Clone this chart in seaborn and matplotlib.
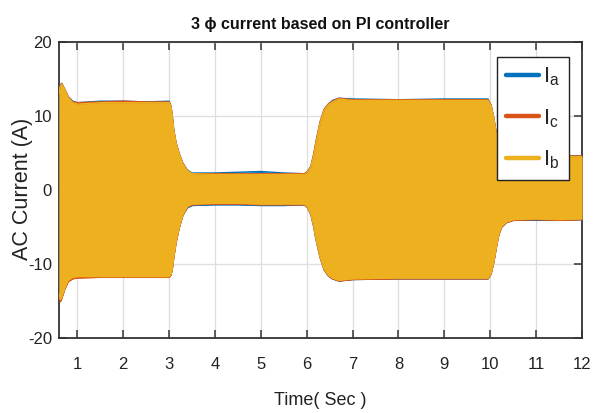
import numpy as np
import pandas as pd
import matplotlib
matplotlib.use("Agg")
import matplotlib.pyplot as plt
from matplotlib import font_manager
from matplotlib.lines import Line2D
import seaborn as sns

# Envelope of the three phase currents (A) against time (s)
time_s = [0.60, 0.63, 0.66, 0.72, 0.80, 0.90, 1.00, 1.50, 2.00, 2.50, 3.00,
          3.04, 3.07, 3.10, 3.15, 3.22, 3.30, 3.40, 3.50, 4.00, 4.50, 5.00,
          5.50, 5.95, 6.02, 6.09, 6.15, 6.20, 6.29, 6.38, 6.47, 6.56, 6.70,
          7.00, 8.00, 9.00, 9.95, 10.02, 10.08, 10.15, 10.19, 10.25, 10.35,
          10.50, 11.00, 11.50, 12.00]

ib_upper = [13.0, 14.0, 14.3, 13.6, 12.5, 11.8, 11.6, 11.8, 11.8, 11.8, 11.8,
            11.2, 9.8, 8.0, 6.3, 4.8, 3.5, 2.6, 2.2, 2.1, 2.1, 2.1,
            2.1, 2.1, 2.4, 3.1, 4.6, 6.3, 9.0, 10.8, 11.5, 11.9, 12.3,
            12.1, 12.1, 12.1, 12.1, 11.3, 9.5, 6.8, 5.4, 4.7, 4.5,
            4.5, 4.5, 4.5, 4.5]
ib_lower = [-14.0, -14.8, -14.5, -13.3, -12.2, -11.8, -11.7, -11.7, -11.7, -11.7, -11.7,
            -11.4, -10.5, -9.0, -7.0, -5.0, -3.3, -2.2, -1.9, -1.8, -1.8, -1.9,
            -1.9, -1.9, -2.3, -3.2, -4.8, -6.5, -9.0, -10.7, -11.5, -11.9, -12.2,
            -12.0, -11.9, -11.9, -11.9, -11.2, -9.5, -7.0, -5.8, -4.9, -4.3,
            -4.0, -3.9, -4.0, -3.9]

ia_upper = [13.1, 14.2, 14.4, 13.6, 12.6, 12.0, 11.8, 12.0, 12.0, 11.9, 12.0,
            11.3, 9.9, 8.1, 6.4, 4.9, 3.6, 2.7, 2.3, 2.3, 2.4, 2.5,
            2.3, 2.2, 2.5, 3.2, 4.7, 6.4, 9.1, 10.9, 11.6, 12.1, 12.4,
            12.3, 12.2, 12.3, 12.3, 11.4, 9.6, 6.9, 5.5, 4.8, 4.6,
            4.6, 4.6, 4.6, 4.6]
ia_lower = [-14.1, -14.8, -14.6, -13.4, -12.3, -11.9, -11.8, -11.8, -11.8, -11.8, -11.8,
            -11.5, -10.6, -9.1, -7.1, -5.1, -3.4, -2.4, -2.1, -2.0, -2.0, -2.1,
            -2.1, -2.0, -2.4, -3.3, -4.9, -6.6, -9.1, -10.8, -11.6, -12.0, -12.3,
            -12.1, -12.0, -12.0, -12.0, -11.3, -9.6, -7.1, -5.9, -5.0, -4.4,
            -4.1, -4.1, -4.1, -4.0]

ic_upper = [13.1, 14.1, 14.4, 13.7, 12.6, 11.9, 11.8, 11.9, 12.0, 11.9, 11.9,
            11.3, 10.0, 8.2, 6.4, 4.9, 3.6, 2.6, 2.2, 2.2, 2.2, 2.2,
            2.2, 2.2, 2.5, 3.2, 4.8, 6.5, 9.2, 10.9, 11.6, 12.0, 12.4,
            12.2, 12.2, 12.2, 12.2, 11.4, 9.6, 6.9, 5.5, 4.8, 4.6,
            4.6, 4.6, 4.6, 4.6]
ic_lower = [-14.3, -15.1, -14.7, -13.5, -12.4, -12.0, -11.9, -11.8, -11.8, -11.8, -11.8,
            -11.5, -10.7, -9.2, -7.2, -5.1, -3.4, -2.3, -2.0, -1.9, -1.9, -2.0,
            -2.0, -2.0, -2.4, -3.3, -4.9, -6.6, -9.1, -10.8, -11.6, -12.0, -12.3,
            -12.1, -12.0, -12.0, -12.0, -11.3, -9.7, -7.2, -6.0, -5.0, -4.4,
            -4.1, -4.0, -4.1, -4.0]

phase_labels = ["I$_{a}$", "I$_{c}$", "I$_{b}$"]
phase_colors = ["#0072BD", "#D95319", "#EDB120"]
x_ticks = list(range(1, 13))
y_ticks = [-20, -10, 0, 10, 20]

sns.set_theme(style="white")

available = {f.name for f in font_manager.fontManager.ttflist}
narrow = "Liberation Sans Narrow" if "Liberation Sans Narrow" in available else "Liberation Sans"
plt.rcParams["font.family"] = [narrow, "DejaVu Sans"]
plt.rcParams["mathtext.fontset"] = "custom"
plt.rcParams["mathtext.rm"] = narrow
plt.rcParams["mathtext.it"] = narrow
plt.rcParams["mathtext.default"] = "regular"

fig = plt.figure(figsize=(6.01, 4.13), dpi=100)
ax = fig.add_axes([59 / 601, 75 / 413, 523 / 601, 296 / 413])

frames = []
for name, up, lo in [("Ia", ia_upper, ia_lower),
                     ("Ic", ic_upper, ic_lower),
                     ("Ib", ib_upper, ib_lower)]:
    frames.append(pd.DataFrame({"t": time_s, "upper": up, "lower": lo, "phase": name}))
df = pd.concat(frames, ignore_index=True)

for (name, color) in zip(["Ia", "Ic", "Ib"], phase_colors):
    d = df[df["phase"] == name]
    ax.fill_between(d["t"], d["lower"], d["upper"], color=color, lw=0, zorder=3)
    sns.lineplot(data=d, x="t", y="upper", color=color, lw=1.0, ax=ax, zorder=3,
                 legend=False, sort=False)
    sns.lineplot(data=d, x="t", y="lower", color=color, lw=1.0, ax=ax, zorder=3,
                 legend=False, sort=False)

ax.set_xlim(0.6, 12)
ax.set_ylim(-20, 20)
ax.set_xticks(x_ticks)
ax.set_yticks(y_ticks)
ax.set_xticklabels([str(v) for v in x_ticks], fontsize=12)
ax.set_yticklabels([str(v) for v in y_ticks], fontsize=12)

ax.grid(True, color="#dedede", lw=0.9, zorder=0)
ax.set_axisbelow(True)
for s in ax.spines.values():
    s.set_color("#333333")
    s.set_linewidth(1.3)
    s.set_visible(True)
ax.tick_params(direction="in", length=6, width=1.1, color="#333333",
               top=True, right=True, bottom=True, left=True,
               labelcolor="#222222")
ax.tick_params(axis="x", pad=14)
ax.tick_params(axis="y", pad=5)

ax.set_title("3 \u03d5 current based on PI controller", fontsize=11.5,
             fontweight="bold", color="#111111", pad=9)
ax.set_xlabel("Time( Sec )", fontsize=13, color="#222222")
ax.xaxis.set_label_coords(0.5, -0.183)
ax.set_ylabel("AC Current (A)", fontsize=15.5, color="#222222",
              family=["Liberation Sans", "DejaVu Sans"])
ax.yaxis.set_label_coords(-0.05, 0.505)

handles = [Line2D([0], [0], color=c, lw=3.2) for c in phase_colors]
leg = ax.legend(handles, phase_labels, loc="upper right",
                bbox_to_anchor=(0.975, 0.95), fontsize=16, frameon=True,
                fancybox=False, framealpha=1, edgecolor="#222222",
                handlelength=1.45, handletextpad=0.2, labelspacing=0.85,
                borderpad=0.4, borderaxespad=0)
leg.get_frame().set_linewidth(1.0)
leg.set_zorder(5)

fig.savefig("out.png", dpi=100)
